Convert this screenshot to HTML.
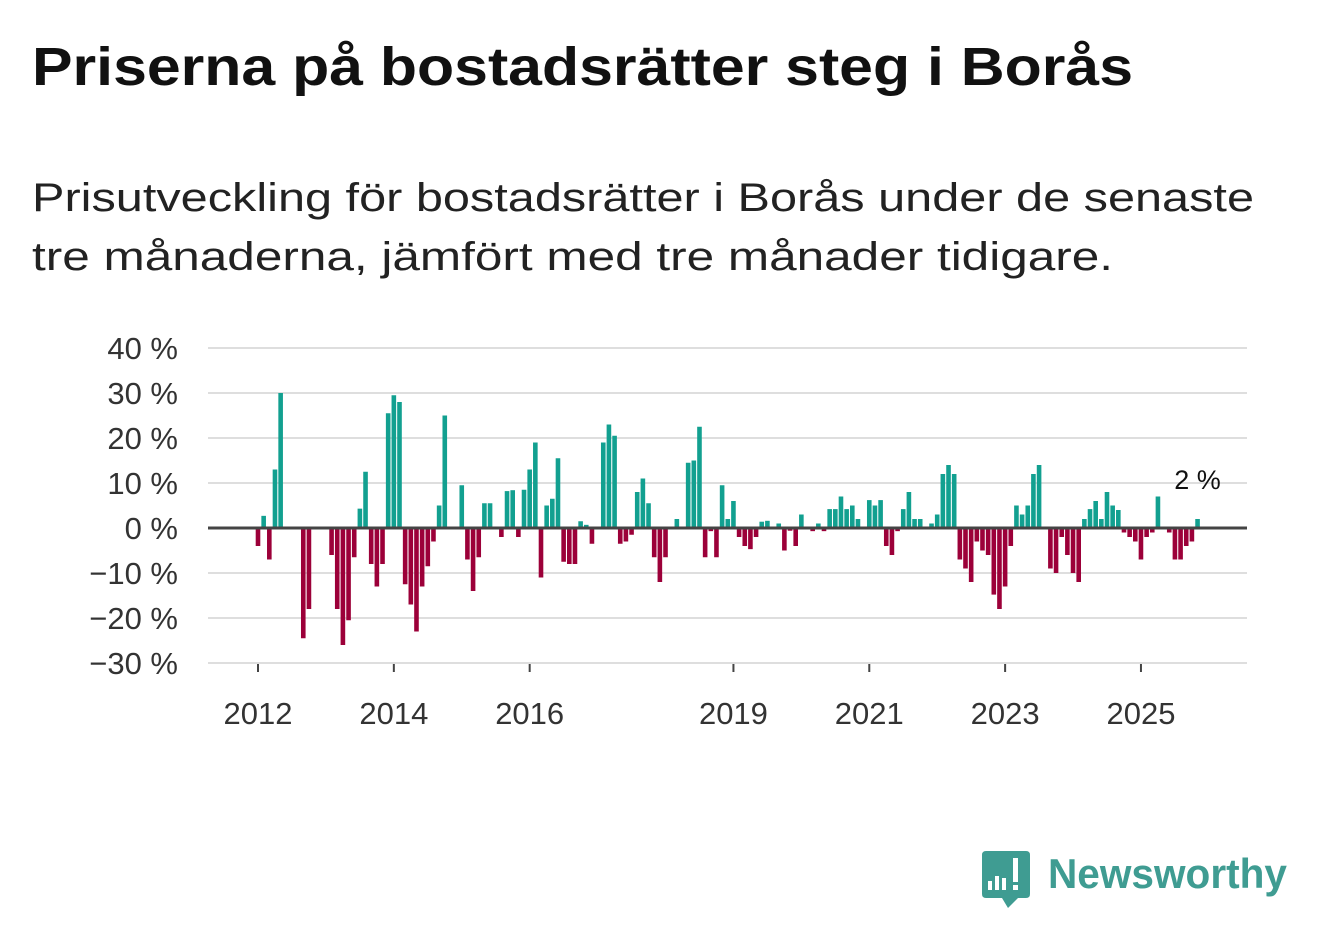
<!DOCTYPE html>
<html><head><meta charset="utf-8">
<style>
body{margin:0;background:#fff;width:1322px;height:939px;overflow:hidden;font-family:"Liberation Sans","DejaVu Sans",sans-serif;}
.ln{position:absolute;left:32px;white-space:nowrap;transform-origin:0 0;margin:0}
#title{top:36px;font-size:54px;font-weight:bold;color:#111}
.sub{font-size:40px;color:#222}
#sub1{top:176px}
#sub2{top:235px}
svg{position:absolute;left:0;top:0}
</style></head><body>
<h1 id="title" class="ln" data-w="1101">Priserna på bostadsrätter steg i Borås</h1>
<div id="sub1" class="ln sub" data-w="1222">Prisutveckling för bostadsrätter i Borås under de senaste</div>
<div id="sub2" class="ln sub" data-w="1081">tre månaderna, jämfört med tre månader tidigare.</div>
<svg id="chart" width="1322" height="939"></svg>
<svg width="1322" height="939">
<path d="M986 851 H1026 Q1030 851 1030 855 V894 Q1030 898 1026 898 H1018 L1008 908 L1002 898 H986 Q982 898 982 894 V855 Q982 851 986 851Z" fill="#3f9c92"/>
<rect x="988" y="881" width="4" height="9" fill="#fff"/><rect x="995" y="876" width="4" height="14" fill="#fff"/><rect x="1002" y="878" width="4" height="12" fill="#fff"/><rect x="1013" y="858" width="5" height="24" fill="#fff"/><rect x="1013" y="885" width="5" height="5" fill="#fff"/>
<text x="1048" y="888" font-size="42" font-weight="bold" fill="#3f9c92" textLength="239" lengthAdjust="spacingAndGlyphs" font-family="Liberation Sans, sans-serif">Newsworthy</text>
</svg>
<script>
document.querySelectorAll('.ln').forEach(e=>{const w=e.getBoundingClientRect().width;e.style.transform='scaleX('+(parseFloat(e.dataset.w)/w)+')';});
const values=[-4,2.7,-7,13,30,0,0,0,-24.5,-18,0,0,0,-6,-18,-26,-20.5,-6.5,4.3,12.5,-8,-13,-8,25.5,29.5,28,-12.5,-17,-23,-13,-8.5,-3,5,25,0,0,9.5,-7,-14,-6.5,5.5,5.5,0.3,-2,8.2,8.4,-2,8.5,13,19,-11,5,6.5,15.5,-7.5,-8,-8,1.5,0.7,-3.5,-0.3,19,23,20.5,-3.5,-3,-1.5,8,11,5.5,-6.5,-12,-6.5,0.3,2,0,14.5,15,22.5,-6.5,-0.7,-6.5,9.5,2,6,-2,-4,-4.7,-2,1.4,1.6,0,1,-5,-0.6,-4,3,0,-0.7,1,-0.7,4.2,4.2,7,4.2,5,2,0,6.2,5,6.2,-4,-6,-0.7,4.2,8,2,2,0,1,3,12,14,12,-7,-9,-12,-3,-5,-6,-14.8,-18,-13,-4,5,3,5,12,14,0,-9,-10,-2,-6,-10,-12,2,4.2,6,2,8,5,4,-1,-2,-3,-7,-2,-1,7,0,-1,-7,-7,-4,-3,2];
const yTicks=[40,30,20,10,0,-10,-20,-30];
const yearLabels=["2012","2014","2016","2019","2021","2023","2025"];
const yearIndex=[0,24,48,84,108,132,156];
const lastLabel="2 %";
const svg=document.getElementById('chart');
const NS="http://www.w3.org/2000/svg";
const x=i=>258+5.66*i;
const y=v=>528-4.5*v;
function mk(t,a){const e=document.createElementNS(NS,t);for(const k in a)e.setAttribute(k,a[k]);svg.appendChild(e);return e;}
yTicks.forEach(t=>{
  if(t!==0){const g=mk('line',{x1:208,x2:1247,y1:y(t),y2:y(t),stroke:'#dedede','stroke-width':2});
  
  }
  const l=mk('text',{x:178,y:y(t)+11,'text-anchor':'end','font-size':31,fill:'#333'});
  l.textContent=(t<0?'\u2212'+(-t):t)+' %';
  
  
});
values.forEach((v,i)=>{
  if(v===0)return;
  const r=mk('rect',{x:x(i)-2.3,width:4.6,y:Math.min(y(v),528),height:Math.abs(y(v)-528),fill:v>0?'#12a090':'#9c0039'});
  
  
});
const z=mk('line',{x1:208,x2:1247,y1:528,y2:528,stroke:'#444','stroke-width':3});


yearIndex.forEach((idx,k)=>{
  const tk=mk('line',{x1:x(idx),x2:x(idx),y1:664,y2:672,stroke:'#444','stroke-width':2});
  
  
  const t=mk('text',{x:x(idx),y:724,'text-anchor':'middle','font-size':31,fill:'#333'});
  t.textContent=yearLabels[k];
  
  
});
const ll=mk('text',{x:x(values.length-1),y:y(values[values.length-1])-30,'text-anchor':'middle','font-size':27,fill:'#111'});
ll.textContent=lastLabel;


</script>
</body></html>
